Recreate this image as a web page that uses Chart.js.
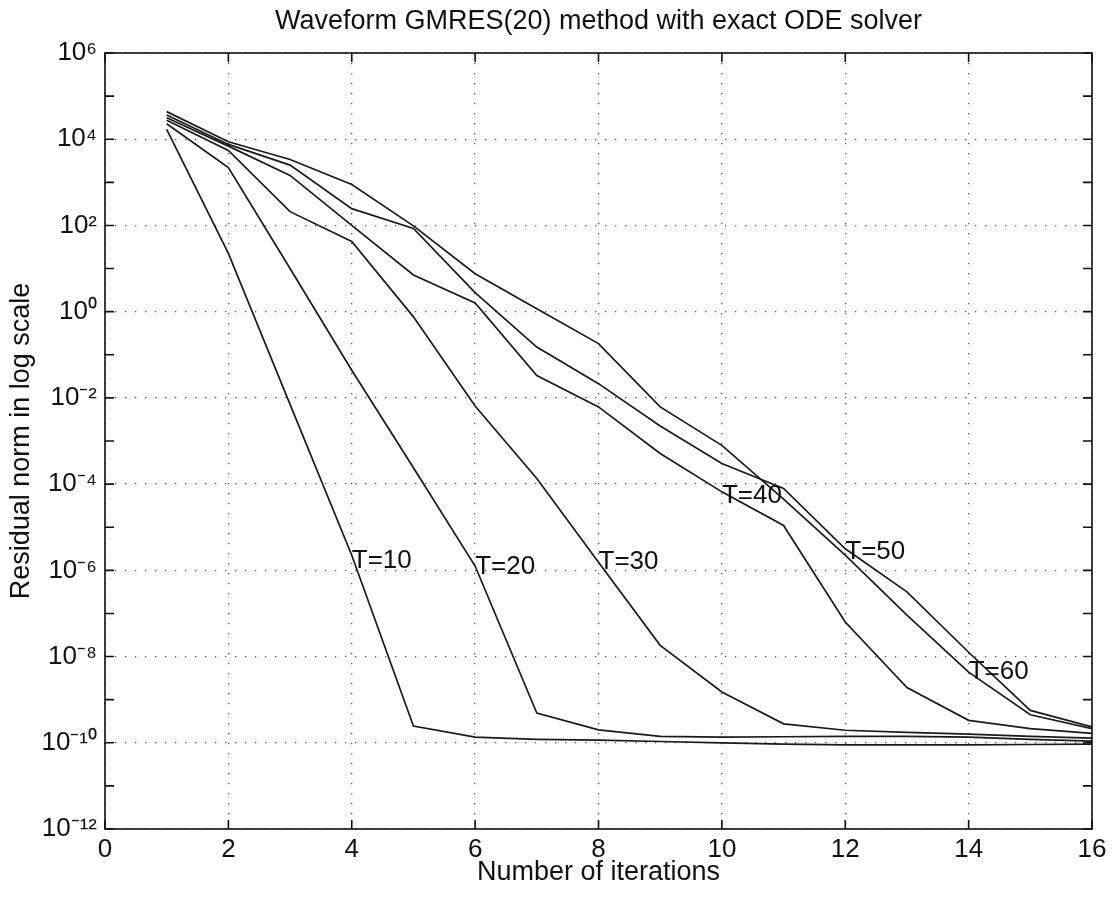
<!DOCTYPE html>
<html>
<head>
<meta charset="utf-8">
<script src="https://cdn.jsdelivr.net/npm/chart.js@4.4.1/dist/chart.umd.min.js"></script>
<style>
  html, body { margin: 0; padding: 0; background: #ffffff; }
  #wrap { width: 1114px; height: 897px; }
</style>
</head>
<body>
<div id="wrap"><canvas id="c" width="1114" height="897"></canvas></div>
<script>
// ---------- data (residual norms, given as log10 values) ----------
const iterations = [1, 2, 3, 4, 5, 6, 7, 8, 9, 10, 11, 12, 13, 14, 15, 16];
const seriesNames = ['T=10', 'T=20', 'T=30', 'T=40', 'T=50', 'T=60'];
const logT10 = [4.23, 1.35, -2.15, -5.65, -9.61, -9.87, -9.92, -9.94, -9.97, -10.00, -10.03, -10.05, -10.05, -10.05, -10.04, -10.03];
const logT20 = [4.36, 3.34, 1.00, -1.36, -3.62, -5.90, -9.31, -9.70, -9.85, -9.87, -9.86, -9.85, -9.85, -9.87, -9.92, -9.96];
const logT30 = [4.44, 3.74, 2.32, 1.63, -0.12, -2.19, -3.87, -5.81, -7.74, -8.82, -9.56, -9.71, -9.76, -9.80, -9.85, -9.89];
const logT40 = [4.50, 3.84, 3.16, 2.00, 0.85, 0.20, -1.48, -2.21, -3.29, -4.18, -4.96, -7.20, -8.72, -9.48, -9.67, -9.78];
const logT50 = [4.56, 3.88, 3.40, 2.39, 1.93, 0.44, -0.82, -1.67, -2.65, -3.52, -4.10, -5.50, -6.50, -7.90, -9.25, -9.63];
const logT60 = [4.64, 3.94, 3.53, 2.95, 1.99, 0.88, 0.07, -0.74, -2.21, -3.10, -4.35, -5.65, -7.04, -8.36, -9.35, -9.67];

// curve labels: data-space anchor (iteration, log10 residual)
const labelIter = [4, 6, 8, 10, 12, 14];
const labelLog = [-5.79, -5.91, -5.80, -4.27, -5.57, -8.35];

// tick labels
const xTickValues = [0, 2, 4, 6, 8, 10, 12, 14, 16];
const xTickLabels = ['0', '2', '4', '6', '8', '10', '12', '14', '16'];
const yDecades = [-12, -11, -10, -9, -8, -7, -6, -5, -4, -3, -2, -1, 0, 1, 2, 3, 4, 5, 6];
const yLabelExps = [-12, -10, -8, -6, -4, -2, 0, 2, 4, 6];
const yTickLabels = ['10⁻¹²', '10⁻¹⁰', '10⁻⁸', '10⁻⁶', '10⁻⁴', '10⁻²', '10⁰', '10²', '10⁴', '10⁶'];

const chartTitle = 'Waveform GMRES(20) method with exact ODE solver';
const xTitle = 'Number of iterations';
const yTitle = 'Residual norm in log scale';

// ---------- build ----------
const FONT = '"Liberation Sans", Arial, Helvetica, sans-serif';
const INK = '#111111';
const allLogs = [logT10, logT20, logT30, logT40, logT50, logT60];

const datasets = allLogs.map((arr, i) => ({
  label: seriesNames[i],
  data: iterations.map((it, k) => ({ x: it, y: Math.pow(10, arr[k]) })),
  borderColor: '#1a1a1a',
  borderWidth: 1.7,
  pointRadius: 0,
  tension: 0,
  fill: false
}));

const framePlugin = {
  id: 'frame',
  afterDraw(chart) {
    const { ctx, chartArea: a, scales } = chart;
    ctx.save();
    ctx.strokeStyle = INK;
    ctx.lineWidth = 1.6;
    ctx.strokeRect(a.left, a.top, a.right - a.left, a.bottom - a.top);
    const tl = 9;
    ctx.beginPath();
    xTickValues.forEach(v => {
      const px = scales.x.getPixelForValue(v);
      ctx.moveTo(px, a.bottom); ctx.lineTo(px, a.bottom - tl);
      ctx.moveTo(px, a.top); ctx.lineTo(px, a.top + tl);
    });
    yDecades.forEach(e => {
      const py = scales.y.getPixelForValue(Math.pow(10, e));
      ctx.moveTo(a.left, py); ctx.lineTo(a.left + tl, py);
      ctx.moveTo(a.right, py); ctx.lineTo(a.right - tl, py);
    });
    ctx.stroke();
    ctx.restore();
  },
  afterDatasetsDraw(chart) {
    const { ctx, scales } = chart;
    ctx.save();
    ctx.fillStyle = INK;
    ctx.font = '26px ' + FONT;
    ctx.textAlign = 'left';
    ctx.textBaseline = 'middle';
    seriesNames.forEach((name, i) => {
      const px = scales.x.getPixelForValue(labelIter[i]);
      const py = scales.y.getPixelForValue(Math.pow(10, labelLog[i]));
      ctx.fillText(name, px, py);
    });
    ctx.restore();
  }
};

new Chart(document.getElementById('c'), {
  type: 'line',
  data: { datasets },
  plugins: [framePlugin],
  options: {
    responsive: false,
    animation: false,
    devicePixelRatio: 1,
    layout: { padding: { left: 0, right: 22, top: 0, bottom: 0 } },
    plugins: {
      legend: { display: false },
      tooltip: { enabled: false },
      title: {
        display: true,
        fullSize: false,
        text: chartTitle,
        color: INK,
        font: { family: FONT, size: 27, weight: 'normal', lineHeight: 1.2 },
        padding: { top: 5, bottom: 15.6 }
      }
    },
    scales: {
      x: {
        type: 'linear',
        min: 0, max: 16,
        afterBuildTicks: s => { s.ticks = xTickValues.map(v => ({ value: v })); },
        afterFit: s => { s.height = 68; },
        ticks: {
          autoSkip: false,
          maxRotation: 0,
          padding: 5,
          color: INK,
          font: { family: FONT, size: 26 },
          callback: (v) => xTickLabels[xTickValues.indexOf(v)]
        },
        grid: { color: '#555555', lineWidth: 1.3, drawTicks: false },
        border: { display: false, dash: [1.3, 8.7] },
        title: {
          display: true, text: xTitle, color: INK,
          font: { family: FONT, size: 27, lineHeight: 1.2 },
          padding: { top: 0, bottom: 8 }
        }
      },
      y: {
        type: 'logarithmic',
        min: 1e-12, max: 1e6,
        afterBuildTicks: s => { s.ticks = yDecades.map(e => ({ value: Math.pow(10, e) })); },
        afterFit: s => { s.width = 105; },
        ticks: {
          autoSkip: false,
          padding: 8,
          color: INK,
          font: { family: FONT, size: 26 },
          callback: (v) => {
            const e = Math.round(Math.log10(v));
            const i = yLabelExps.indexOf(e);
            return i >= 0 ? yTickLabels[i] : '';
          }
        },
        grid: {
          drawTicks: false,
          lineWidth: 1.3,
          color: (c) => {
            if (!c.tick) return 'rgba(0,0,0,0)';
            const e = Math.round(Math.log10(c.tick.value));
            return (e % 2 === 0) ? '#555555' : 'rgba(0,0,0,0)';
          }
        },
        border: { display: false, dash: [1.3, 8.7] },
        title: {
          display: true, text: yTitle, color: INK,
          font: { family: FONT, size: 27, lineHeight: 1.2 },
          padding: { top: 5, bottom: 0 }
        }
      }
    }
  }
});
</script>
</body>
</html>
